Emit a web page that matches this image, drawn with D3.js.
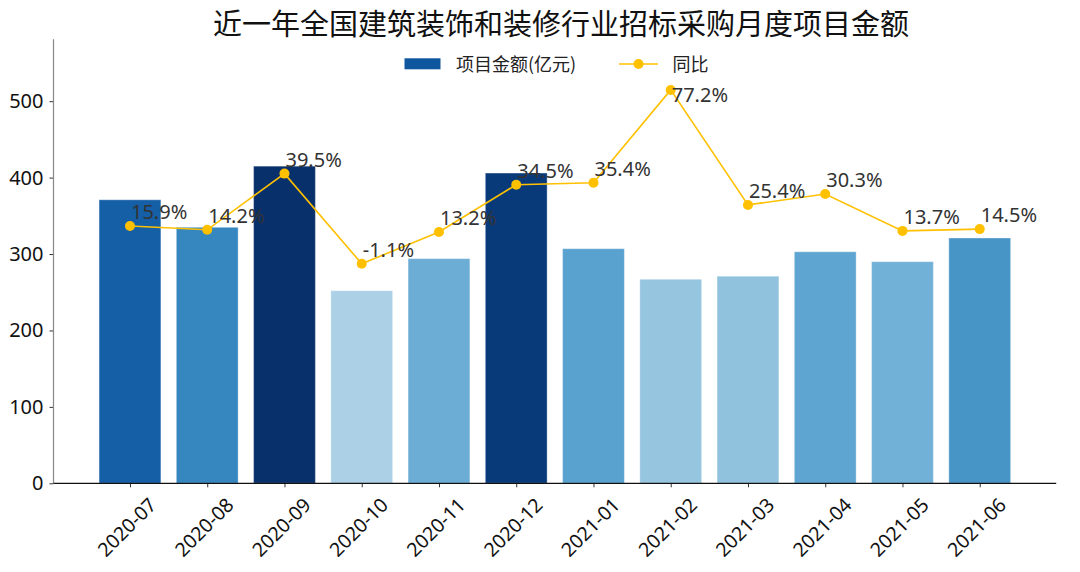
<!DOCTYPE html>
<html>
<head>
<meta charset="utf-8">
<script src="https://cdn.jsdelivr.net/npm/d3@7"></script>
<style>
  html, body { margin: 0; padding: 0; background: #fff; }
  svg { display: block; font-family: "Noto Sans CJK SC", "Noto Sans", sans-serif; }
</style>
</head>
<body>
<svg id="chart" width="1080" height="572"></svg>
<script>
const title = "近一年全国建筑装饰和装修行业招标采购月度项目金额";
const categories = ["2020-07","2020-08","2020-09","2020-10","2020-11","2020-12","2021-01","2021-02","2021-03","2021-04","2021-05","2021-06"];
const amounts = [371, 335, 415, 252, 294, 406, 307, 267, 271, 303, 290, 321];
const yoy = [15.9, 14.2, 39.5, -1.1, 13.2, 34.5, 35.4, 77.2, 25.4, 30.3, 13.7, 14.5];
const yTicks = [0, 100, 200, 300, 400, 500];
const legendLabels = ["项目金额(亿元)", "同比"];

const svg = d3.select("#chart");
const plot = { left: 53.5, right: 1056.2, top: 39.3, bottom: 483.3 };

const x = d3.scaleLinear().domain([-0.99, categories.length - 1 + 0.99]).range([plot.left, plot.right]);
const step = x(1) - x(0);
const barW = step * 0.8;
const y = d3.scaleLinear().domain([0, d3.max(amounts) * 1.4]).range([plot.bottom, plot.top]);
const y2 = d3.scaleLinear().domain([-100, 100]).range([plot.bottom, plot.top]);
const colorT = d3.scaleLinear().domain([252, 415]).range([0.33, 1.0]).clamp(true);

// bars
svg.append("g").selectAll("rect").data(amounts).join("rect")
  .attr("x", (d, i) => x(i) - barW / 2)
  .attr("y", d => y(d))
  .attr("width", barW)
  .attr("height", d => y(0) - y(d))
  .attr("fill", d => d3.interpolateBlues(colorT(d)))
  .attr("stroke", "#ffffff")
  .attr("stroke-opacity", 0.35)
  .attr("stroke-width", 1);

// y axis
const yAxis = svg.append("g").attr("transform", `translate(${plot.left},0)`)
  .call(d3.axisLeft(y).tickValues(yTicks).tickSize(4).tickPadding(6).tickFormat(d3.format("d")));
yAxis.select(".domain").remove();
yAxis.selectAll(".tick line").attr("stroke", "#333");
yAxis.selectAll(".tick text").attr("font-size", 20).attr("fill", "#111")
  .attr("font-family", "'Noto Sans', sans-serif");
svg.append("line").attr("x1", plot.left).attr("x2", plot.left)
  .attr("y1", plot.top).attr("y2", plot.bottom).attr("stroke", "#888").attr("stroke-width", 1.2);

// x axis
const xAxis = svg.append("g").attr("transform", `translate(0,${plot.bottom})`)
  .call(d3.axisBottom(x).tickValues(d3.range(categories.length)).tickSize(4).tickFormat(""));
xAxis.select(".domain").remove();
xAxis.selectAll(".tick line").attr("stroke", "#333");
svg.append("line").attr("x1", plot.left).attr("x2", plot.right)
  .attr("y1", plot.bottom).attr("y2", plot.bottom).attr("stroke", "#111").attr("stroke-width", 1.2);
svg.append("g").selectAll("text").data(categories).join("text")
  .attr("transform", (d, i) => `translate(${x(i) - 3},${plot.bottom + 44}) rotate(-45)`)
  .attr("text-anchor", "middle")
  .attr("dy", "0.35em")
  .attr("font-size", 19.5)
  .attr("font-family", "'Noto Sans', sans-serif")
  .attr("fill", "#111")
  .text(d => d);

// yoy line
const lineColor = "#ffc000";
svg.append("path").datum(yoy)
  .attr("d", d3.line().x((d, i) => x(i)).y(d => y2(d)))
  .attr("fill", "none").attr("stroke", lineColor).attr("stroke-width", 1.6);
svg.append("g").selectAll("circle").data(yoy).join("circle")
  .attr("cx", (d, i) => x(i)).attr("cy", d => y2(d)).attr("r", 5)
  .attr("fill", lineColor);
svg.append("g").selectAll("text").data(yoy).join("text")
  .attr("x", (d, i) => x(i) + 1)
  .attr("y", d => y2(Math.min(d + 3.2, 71.7)))
  .attr("font-size", 20)
  .attr("font-family", "'Noto Sans', sans-serif")
  .attr("fill", "#333")
  .text(d => d.toFixed(1) + "%");

// title
svg.append("text").attr("x", 561).attr("y", 34.5).attr("text-anchor", "middle")
  .attr("font-size", 29).attr("fill", "#111").text(title);

// legend
const lg = svg.append("g");
lg.append("rect").attr("x", 404.5).attr("y", 58.3).attr("width", 36).attr("height", 11)
  .attr("fill", d3.interpolateBlues(colorT(380)));
lg.append("text").attr("x", 456).attr("y", 71).attr("font-size", 18).attr("fill", "#222").text(legendLabels[0]);
lg.append("line").attr("x1", 619).attr("x2", 658).attr("y1", 64).attr("y2", 64)
  .attr("stroke", lineColor).attr("stroke-width", 1.6);
lg.append("circle").attr("cx", 638.5).attr("cy", 64).attr("r", 5).attr("fill", lineColor);
lg.append("text").attr("x", 672.5).attr("y", 71).attr("font-size", 18).attr("fill", "#222").text(legendLabels[1]);
</script>
</body>
</html>
